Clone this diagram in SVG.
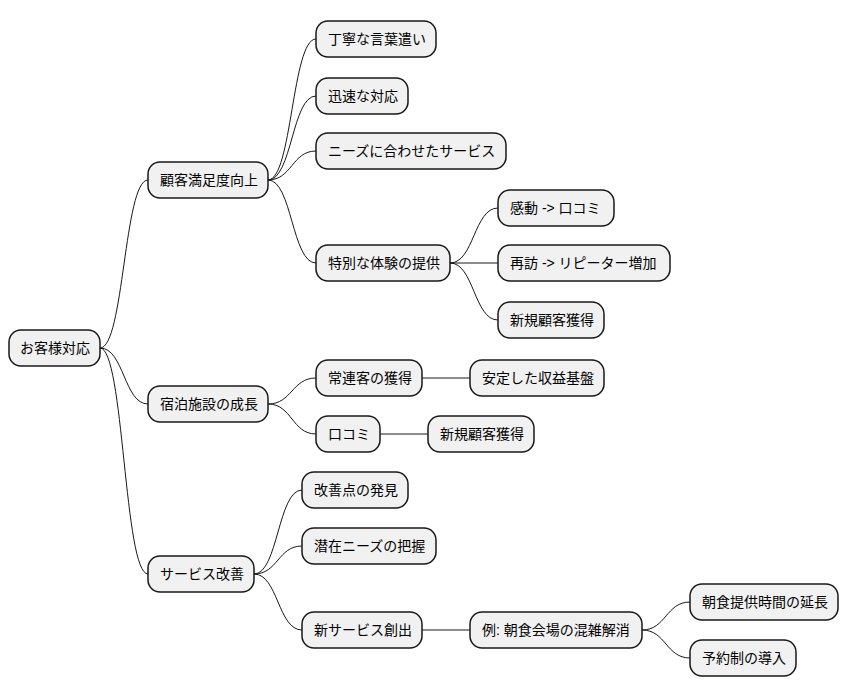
<svg xmlns="http://www.w3.org/2000/svg" width="848" height="696" viewBox="0 0 848 696">
<style>
.n rect{fill:#F1F1F1;stroke:#181818;stroke-width:1.5}
.n text{font-family:"Liberation Sans","Noto Sans CJK JP",sans-serif;font-size:14px;fill:#000;dominant-baseline:central}
#c path{fill:none;stroke:#181818;stroke-width:1}
</style>
<rect width="848" height="696" fill="#fff"/>
<g id="c">
<path d="M100,348 C124,348 124,180 148,180"/>
<path d="M100,348 C124,348 124,404 148,404"/>
<path d="M100,348 C124,348 124,574 148,574"/>
<path d="M268,180 C292,180 292,39 316,39"/>
<path d="M268,180 C292,180 292,96 316,96"/>
<path d="M268,180 C292,180 292,151 316,151"/>
<path d="M268,180 C292,180 292,263 316,263"/>
<path d="M450,263 C474,263 474,208 498,208"/>
<path d="M450,263 L498,263"/>
<path d="M450,263 C474,263 474,320 498,320"/>
<path d="M268,404 C292,404 292,378 316,378"/>
<path d="M268,404 C292,404 292,434 316,434"/>
<path d="M422,378 L470,378"/>
<path d="M380,434 L428,434"/>
<path d="M254,574 C278,574 278,490 302,490"/>
<path d="M254,574 C278,574 278,546 302,546"/>
<path d="M254,574 C278,574 278,630 302,630"/>
<path d="M422,630 L470,630"/>
<path d="M642,630 C666,630 666,602 690,602"/>
<path d="M642,630 C666,630 666,658 690,658"/>
</g>
<g id="root" class="n"><rect x="9" y="330" width="91" height="36" rx="12"/><text x="20" y="348">お客様対応</text></g>
<g id="n1" class="n"><rect x="148" y="162" width="120" height="36" rx="12"/><text x="160" y="180">顧客満足度向上</text></g>
<g id="n11" class="n"><rect x="316" y="21" width="120" height="36" rx="12"/><text x="328" y="39">丁寧な言葉遣い</text></g>
<g id="n12" class="n"><rect x="316" y="78" width="92" height="36" rx="12"/><text x="328" y="96">迅速な対応</text></g>
<g id="n13" class="n"><rect x="316" y="133" width="190" height="36" rx="12"/><text x="328" y="151">ニーズに合わせたサービス</text></g>
<g id="n14" class="n"><rect x="316" y="245" width="134" height="36" rx="12"/><text x="328" y="263">特別な体験の提供</text></g>
<g id="n141" class="n"><rect x="498" y="190" width="116" height="36" rx="12"/><text x="510" y="208">感動 -&gt; 口コミ</text></g>
<g id="n142" class="n"><rect x="498" y="245" width="172" height="36" rx="12"/><text x="510" y="263">再訪 -&gt; リピーター増加</text></g>
<g id="n143" class="n"><rect x="498" y="302" width="106" height="36" rx="12"/><text x="510" y="320">新規顧客獲得</text></g>
<g id="n2" class="n"><rect x="148" y="386" width="120" height="36" rx="12"/><text x="160" y="404">宿泊施設の成長</text></g>
<g id="n21" class="n"><rect x="316" y="360" width="106" height="36" rx="12"/><text x="328" y="378">常連客の獲得</text></g>
<g id="n211" class="n"><rect x="470" y="360" width="134" height="36" rx="12"/><text x="482" y="378">安定した収益基盤</text></g>
<g id="n22" class="n"><rect x="316" y="416" width="64" height="36" rx="12"/><text x="328" y="434">口コミ</text></g>
<g id="n221" class="n"><rect x="428" y="416" width="106" height="36" rx="12"/><text x="440" y="434">新規顧客獲得</text></g>
<g id="n3" class="n"><rect x="148" y="556" width="106" height="36" rx="12"/><text x="160" y="574">サービス改善</text></g>
<g id="n31" class="n"><rect x="302" y="472" width="106" height="36" rx="12"/><text x="314" y="490">改善点の発見</text></g>
<g id="n32" class="n"><rect x="302" y="528" width="134" height="36" rx="12"/><text x="314" y="546">潜在ニーズの把握</text></g>
<g id="n33" class="n"><rect x="302" y="612" width="120" height="36" rx="12"/><text x="314" y="630">新サービス創出</text></g>
<g id="n331" class="n"><rect x="470" y="612" width="172" height="36" rx="12"/><text x="482" y="630">例: 朝食会場の混雑解消</text></g>
<g id="n3311" class="n"><rect x="690" y="584" width="148" height="36" rx="12"/><text x="702" y="602">朝食提供時間の延長</text></g>
<g id="n3312" class="n"><rect x="690" y="640" width="106" height="36" rx="12"/><text x="702" y="658">予約制の導入</text></g>
</svg>
